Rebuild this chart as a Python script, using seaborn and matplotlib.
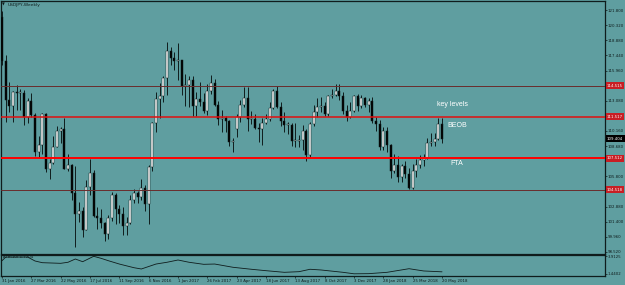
import numpy as np
import pandas as pd
import matplotlib
matplotlib.use("Agg")
import matplotlib.pyplot as plt
import matplotlib.transforms as mtransforms
import seaborn as sns

# ---------------- data (USDJPY weekly) ----------------
opens = [121.1, 116.9, 113.1, 112.6, 113.9, 113.8, 113.8, 111.5, 113.0, 111.7,
         108.1, 108.8, 111.8, 106.5, 107.1, 108.6, 110.2, 110.3, 106.5, 106.9,
         104.2, 102.2, 102.5, 100.6, 104.8, 106.1, 102.0, 101.8, 101.3, 100.2,
         101.8, 104.0, 102.6, 102.2, 101.0, 101.3, 103.5, 104.2, 103.8, 104.7,
         103.1, 106.7, 110.9, 113.2, 113.5, 115.3, 117.9, 117.2,
         116.9, 117.0, 114.5, 114.6, 115.1, 112.6, 113.2, 112.9, 112.1, 114.0,
         114.8, 112.7, 111.3, 111.4, 111.1, 109.1, 110.3, 111.5, 112.7, 113.3,
         111.3, 111.3, 110.4, 110.3, 110.9, 111.3, 112.4, 114.0, 112.5, 111.1,
         110.7, 110.7, 109.2, 109.2, 109.3, 110.2, 107.8, 110.8, 112.0, 112.5,
         112.6, 111.8, 113.5, 113.6, 114.0, 113.5, 112.1, 111.5, 112.1, 113.5,
         112.6, 113.3, 112.7,
         113.0, 111.1, 110.8, 108.6, 110.2, 108.8, 106.3, 106.9, 105.7, 106.8,
         106.0, 104.7, 106.3, 106.9, 107.4, 107.6, 109.0, 109.1, 109.4, 110.8]
highs = [121.7, 117.5, 114.9, 114.0, 114.6, 114.2, 114.1, 113.3, 113.8, 111.9,
         109.7, 111.9, 111.9, 107.5, 109.7, 110.6, 110.5, 111.4, 107.9, 107.0,
         106.8, 103.3, 102.8, 105.4, 107.5, 106.4, 102.8, 102.6, 101.4, 102.1,
         104.3, 104.2, 103.0, 102.8, 101.9, 104.0, 104.6, 104.4, 105.5, 105.0,
         106.9, 111.0, 113.9, 114.8, 115.4, 118.7, 118.2, 117.8,
         118.6, 117.0, 115.6, 115.4, 115.4, 113.9, 114.9, 113.8, 114.7, 115.5,
         115.2, 113.0, 112.2, 111.6, 111.2, 109.5, 111.8, 113.1, 114.4, 114.4,
         112.1, 111.8, 110.9, 111.4, 111.8, 112.9, 114.2, 114.5, 112.9, 112.0,
         111.0, 110.9, 110.9, 109.8, 110.7, 110.3, 111.0, 112.7, 113.3, 113.4,
         112.9, 113.6, 114.2, 114.7, 114.7, 113.9, 112.7, 112.9, 113.6, 113.7,
         113.6, 113.4, 113.3,
         113.4, 111.5, 111.2, 110.5, 110.5, 108.9, 107.9, 107.7, 107.0, 107.3,
         106.6, 107.0, 107.5, 107.8, 107.9, 109.5, 110.0, 110.0, 111.4, 111.4]
lows = [116.5, 111.0, 112.0, 111.0, 112.2, 112.2, 110.7, 110.9, 111.5, 107.7,
        107.6, 107.9, 106.2, 105.5, 107.0, 108.6, 109.0, 106.5, 106.3, 103.5,
        99.0, 101.4, 100.0, 100.6, 104.0, 101.9, 100.7, 100.8, 99.55, 99.8,
        101.5, 101.2, 101.3, 100.1, 100.1, 101.2, 103.2, 103.2, 103.5, 102.5,
        101.2, 106.3, 110.1, 111.4, 112.9, 113.6, 116.5, 116.0,
        115.1, 113.6, 112.6, 112.5, 111.6, 111.6, 112.6, 111.9, 111.7, 113.7,
        112.6, 110.7, 110.1, 110.1, 108.7, 108.1, 109.6, 111.0, 112.5, 110.2,
        110.8, 110.3, 109.1, 108.8, 110.8, 111.1, 112.3, 112.4, 110.6, 110.1,
        109.9, 108.7, 108.6, 108.6, 108.3, 107.3, 107.6, 110.6, 111.5, 112.0,
        111.6, 111.6, 113.3, 113.5, 113.1, 111.8, 111.1, 111.4, 112.0, 112.1,
        112.4, 112.5, 112.0,
        110.9, 110.2, 108.3, 108.3, 108.1, 105.6, 106.1, 105.2, 105.2, 105.6,
        104.6, 104.6, 105.7, 106.6, 106.8, 107.5, 108.7, 108.7, 109.3, 109.0]
closes = [116.9, 113.1, 112.6, 113.9, 113.8, 113.8, 111.5, 113.0, 111.7, 108.1,
          108.8, 111.8, 106.5, 107.1, 108.6, 110.2, 110.3, 106.5, 106.9, 104.2,
          102.2, 102.5, 100.6, 104.8, 106.1, 102.0, 101.8, 101.3, 100.2, 101.8,
          104.0, 102.6, 102.2, 101.0, 101.3, 103.5, 104.2, 103.8, 104.7, 103.1,
          106.7, 110.9, 113.2, 113.5, 115.3, 117.9, 117.2, 116.9,
          117.0, 114.5, 114.6, 115.1, 112.6, 113.2, 112.9, 112.1, 114.0, 114.8,
          112.7, 111.3, 111.4, 111.1, 109.1, 109.1, 111.5, 112.7, 113.3, 111.3,
          111.3, 110.4, 110.3, 110.9, 111.3, 112.4, 114.0, 112.5, 111.1, 110.7,
          110.7, 109.2, 109.2, 109.3, 110.2, 107.8, 110.8, 112.0, 112.5, 112.6,
          111.8, 113.5, 113.6, 114.0, 113.5, 112.1, 111.5, 112.1, 113.5, 112.6,
          113.3, 112.7, 113.0,
          111.1, 110.8, 108.6, 110.2, 108.8, 106.3, 106.9, 105.7, 106.8, 106.0,
          104.7, 106.3, 106.9, 107.4, 107.6, 109.0, 109.1, 109.4, 110.8, 109.404]

# ATR sub-window, sampled along the line (bar index, value)
atr_bar = [0, 1, 7, 9, 11, 16, 18, 20, 22, 25, 27, 29, 32, 36, 38, 42, 45, 48,
           51, 55, 58, 63, 68, 72, 77, 81, 84, 87, 93, 96, 100, 105, 111, 115, 120]
atr_val = [3.29, 3.80, 3.81, 3.25, 3.01, 2.92, 3.07, 3.53, 3.15, 3.91, 3.63, 3.29,
           2.82, 2.30, 2.12, 2.82, 3.07, 3.39, 3.07, 2.78, 2.82, 2.36, 2.08, 1.88,
           1.65, 1.74, 2.08, 1.98, 1.65, 1.44, 1.46, 1.65, 2.16, 1.84, 1.72]

date_bar = [0, 8, 16, 24, 32, 40, 48, 56, 64, 72, 80, 88, 96, 104, 112, 120]
date_labels = ["31 Jan 2016", "27 Mar 2016", "22 May 2016", "17 Jul 2016",
               "11 Sep 2016", "6 Nov 2016", "1 Jan 2017", "26 Feb 2017",
               "23 Apr 2017", "18 Jun 2017", "13 Aug 2017", "8 Oct 2017",
               "3 Dec 2017", "28 Jan 2018", "25 Mar 2018", "20 May 2018"]

price_ticks = [121.800, 120.320, 118.880, 117.440, 115.960, 113.080,
               110.160, 108.680, 105.800, 102.880, 101.400, 99.960, 98.520]
level_values = [114.515, 111.517, 107.512, 104.518]
level_labels = ["114.515", "111.517", "107.512", "104.518"]
last_price = 109.404
atr_ticks = [3.9125, 1.4402]

notes = ["key levels", "BEOB", "FTA"]
note_bar = [118.6, 121.4, 122.2]
note_price = [112.75, 110.73, 106.98]

# ---------------- styling ----------------
sns.set_theme(style="ticks")
plt.rcParams['font.family'] = ['DejaVu Sans']

BG = '#5F9EA0'
DARK = '#0f1c1c'
W, H = 625, 285
PX_PER_YEN = 10.39


def fx(px):
    return px / W


def fy(py):
    return 1 - py / H


fig = plt.figure(figsize=(6.25, 2.85), dpi=100, facecolor=BG)
ax = fig.add_axes([fx(1), fy(253.5), fx(605) - fx(1), fy(1) - fy(253.5)])
axa = fig.add_axes([fx(1), fy(275.5), fx(605) - fx(1), fy(254.5) - fy(275.5)])

df = pd.DataFrame({"open": opens, "high": highs, "low": lows, "close": closes})
df["bar"] = np.arange(len(df))
df["bottom"] = df[["open", "close"]].min(axis=1)
df["height"] = (df["close"] - df["open"]).abs().clip(lower=0.08)
df["up"] = df["close"] >= df["open"]

xmin, xmax = (1 - 2) / 3.667, (605 - 2) / 3.667
for a in (ax, axa):
    a.set_facecolor(BG)
    a.set_xlim(xmin, xmax)
    for s in a.spines.values():
        s.set_visible(True)
        s.set_color(DARK)
        s.set_linewidth(0.9)

# 121.800 sits at pixel row 10; axes spans rows 1 .. 253.5
ax.set_ylim(121.8 - (253.5 - 10) / PX_PER_YEN, 121.8 + (10 - 1) / PX_PER_YEN)

# candles
ax.vlines(df["bar"], df["low"], df["high"], color=DARK, lw=0.7, zorder=2)
ax.bar(df["bar"], df["height"], bottom=df["bottom"], width=0.58,
       color=np.where(df["up"], "white", "black"), edgecolor=DARK,
       linewidth=0.35, zorder=3)

# horizontal levels
lv_style = [("#6a2c2c", 0.7), ("#e01010", 1.1), ("#ff0000", 1.4), ("#6a2c2c", 0.7)]
for v, (c, lw) in zip(level_values, lv_style):
    ax.axhline(v, color=c, lw=lw, zorder=4)

# price axis on the right
ax.yaxis.tick_right()
ax.set_yticks(price_ticks)
ax.set_yticklabels([f"{t:.3f}" for t in price_ticks])
ax.tick_params(axis='y', direction='out', length=1.2, width=0.5, pad=0.5,
               labelsize=2.8, colors=DARK)
ax.set_xticks([])

trans = mtransforms.blended_transform_factory(ax.transAxes, ax.transData)
for v, t in zip(level_values, level_labels):
    ax.text(1.0 + 2.0 / 604, v, t, transform=trans, ha='left', va='center',
            fontsize=2.8, color='white', clip_on=False, zorder=10,
            bbox=dict(boxstyle='square,pad=0.35', fc='#c81e24', ec='none'))
ax.text(1.0 + 2.0 / 604, last_price, f"{last_price:.3f}", transform=trans,
        ha='left', va='center', fontsize=2.8, color='white', clip_on=False,
        zorder=10, bbox=dict(boxstyle='square,pad=0.35', fc='black', ec='none'))

for t, xb, yp in zip(notes, note_bar, note_price):
    ax.text(xb, yp, t, color='white', fontsize=5, family='Liberation Sans',
            ha='left', va='center', zorder=6)

# ATR sub-window
sns.lineplot(x=atr_bar, y=atr_val, ax=axa, color=DARK, lw=0.6)
axa.set_ylim(1.4402 - 1.7 * 0.1413, 3.9125 + 1.8 * 0.1413)
axa.set_xlim(xmin, xmax)
axa.yaxis.tick_right()
axa.set_yticks(atr_ticks)
axa.set_yticklabels([f"{t:.4f}" for t in atr_ticks])
axa.tick_params(axis='y', direction='out', length=1.2, width=0.5, pad=0.5,
                labelsize=2.8, colors=DARK)
axa.set_xticks(date_bar)
axa.set_xticklabels(date_labels, ha='left')
axa.tick_params(axis='x', direction='out', length=1.5, width=0.5, pad=0.8,
                labelsize=2.8, colors=DARK)
axa.set_xlabel("")
axa.set_ylabel("")

fig.text(fx(2.2), fy(5), "\u25bc", fontsize=2.6, color=DARK, va='center')
fig.text(fx(8), fy(5), "USDJPY,Weekly", fontsize=3.2, color=DARK, va='center')
fig.text(fx(3), fy(257.5), "ATR(10) 1.7204", fontsize=2.8, color=DARK,
         va='center')

fig.savefig("out.png", dpi=100, facecolor=BG)
